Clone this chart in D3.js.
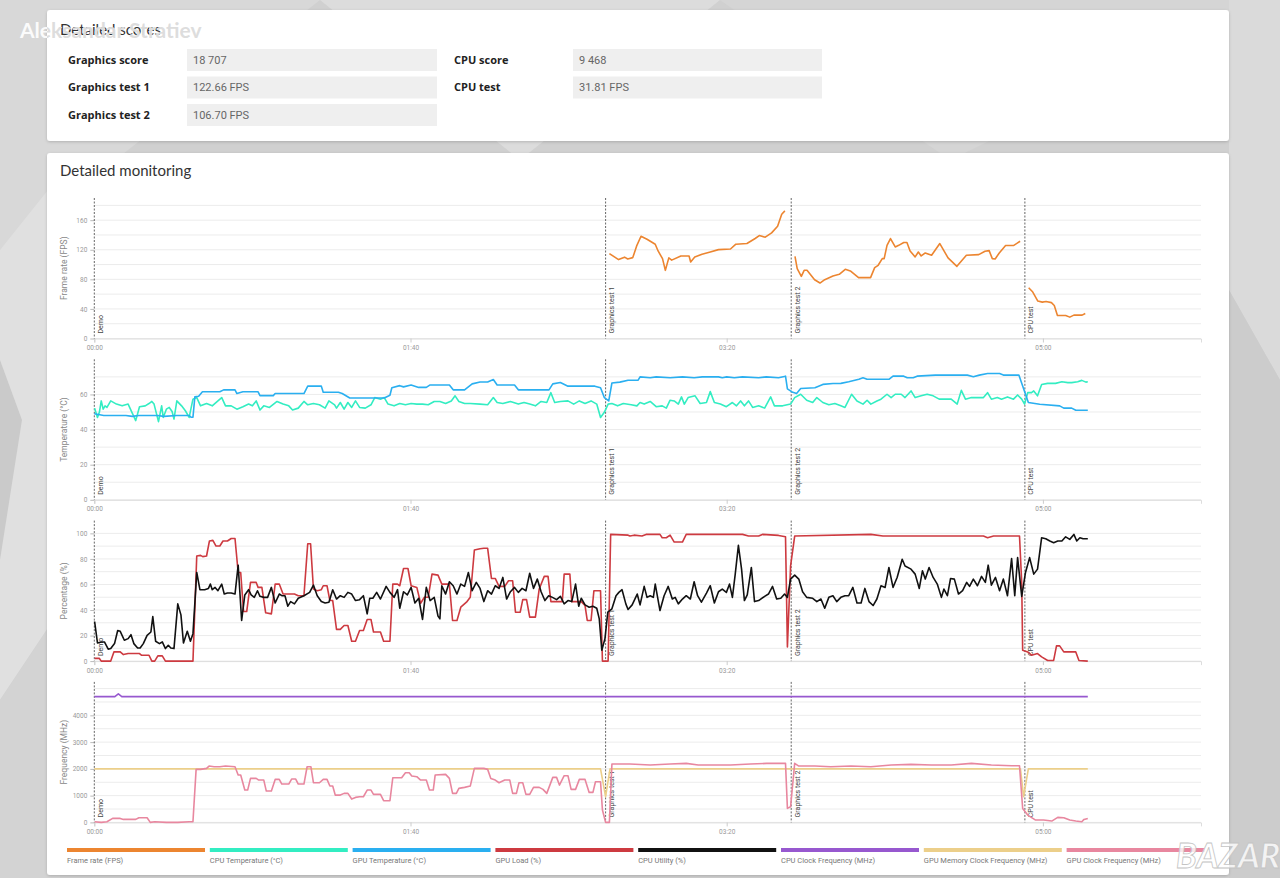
<!DOCTYPE html>
<html>
<head>
<meta charset="utf-8">
<script src="https://cdn.jsdelivr.net/npm/d3@7"></script>
<style>
    html, body { margin: 0; padding: 0; background: #d0d0d0; overflow: hidden; }
    svg { display: block; }
</style>
</head>
<body>
<div id="page"></div>
<script>
/* ---------- data ---------- */

const ownerName = "Aleksandar Stratiev";

const scoresLeft = [["Graphics score", "18 707"], ["Graphics test 1", "122.66 FPS"], ["Graphics test 2", "106.70 FPS"]];
const scoresRight = [["CPU score", "9 468"], ["CPU test", "31.81 FPS"]];

const timeDomain = [0, 350];
const timeTicks = [0, 100, 200, 300];

const testMarkers = [[0, "Demo"], [161.7, "Graphics test 1"], [220.4, "Graphics test 2"], [294.3, "CPU test"]];

const fpsTicks = [0, 40, 80, 120, 160];
const tempTicks = [0, 20, 40, 60];
const pctTicks = [0, 20, 40, 60, 80, 100];
const freqTicks = [0, 1000, 2000, 3000, 4000];

const legendNames = ["Frame rate (FPS)", "CPU Temperature (°C)", "GPU Temperature (°C)", "GPU Load (%)",
    "CPU Utility (%)", "CPU Clock Frequency (MHz)", "GPU Memory Clock Frequency (MHz)", "GPU Clock Frequency (MHz)"];
const legendColors = ["#ec8530", "#33edc2", "#2aaff0", "#cd3a40", "#111111", "#9758cf", "#eccf8a", "#e8879f"];

// [seconds, value] ; null = gap between tests
const frameRate = [
    [162.9,114.8],[165.8,106.7],[167.7,110],[168.7,107.6],[170.3,109.4],[171.6,126],[172.9,138.3],[174.8,134.2],
    [177.4,127.5],[178.3,118.4],[179.7,108],[180.6,92.2],[181.7,109],[182.6,106],[185.5,111.6],[188.1,111.6],
    [188.6,103.5],[189.9,110.3],[192.2,113.9],[194.8,117],[197.4,120.2],[201.2,121],[202.9,127.5],[206.4,128.4],
    [209,135.2],[210.3,139.2],[212.2,137],[214.2,142.8],[216.1,151.9],[217.4,168.1],[218.4,172.6],
    [220,null],
    [221.6,111.2],[222.3,94.5],[223.6,84],[224.5,92.2],[225.4,92.2],[227.8,79.5],[229.5,75],[231,79.5],[233.6,84.5],
    [235.6,86.8],[237.5,93.6],[239.1,91.3],[241.7,82.3],[245.5,82.3],[246.8,95.8],[247.9,99],[249.2,108],[249.8,108],
    [250.7,126],[251.8,135.2],[253.3,123.8],[254.4,126],[256,129.8],[257,129.8],[258,118.4],[259.6,110.3],[260.6,117],
    [261.5,111.6],[262.8,115.7],[264.8,112.5],[267.4,128.4],[270,109],[272.8,97.6],[275.8,112.5],[279.7,113.4],
    [281.7,118],[283,118.8],[284,108],[284.9,107.6],[286.2,115.7],[288.2,125.7],[290.8,126],[292.8,131.5],
    [294,null],
    [295.5,68.7],[296.8,62.8],[298.4,50.6],[299.8,49.2],[301,50],[302.7,48.5],[303.6,44.7],[304.6,31.2],[307.2,31.2],
    [308.5,28.9],[309.8,31.6],[312.4,31.6],[313.4,33.9]
];

const cpuTemp = [
    [0.1,52.2],[1,46.9],[1.6,49.8],[2.2,56.3],[2.8,51.6],[3.4,53.5],[4,52.6],[5.2,56.3],[7,54.5],[8.8,53.5],[10.7,54.5],
    [11.9,49.8],[13.1,45.1],[14.3,53],[16.1,53.5],[17.3,54.8],[18.2,56],[18.9,54.5],[19.7,48.8],[20.3,44.5],[21.3,53.5],
    [21.8,46.9],[22.8,51.6],[23.7,52.6],[24.6,50.3],[25.2,46],[26.1,56.3],[27.6,53.5],[28.8,50.7],[30,46.9],[31.2,57.3],
    [32.4,58.2],[33.6,53.5],[35.5,54.8],[37.3,53.5],[39.1,56.3],[40.3,58.2],[41.5,53.5],[43.3,53.5],[45.1,51.6],[47,53],
    [48.8,54.5],[50,53.5],[51.2,56.3],[52.4,51.1],[53.6,53.5],[55.4,52.6],[57.8,56],[59.7,54.5],[61.5,53.5],[62.7,51.1],
    [64.5,52.2],[66.3,56],[67.5,54.1],[69.3,54.8],[71.2,54.1],[73,52.2],[74.2,56.3],[76,54.1],[76.6,52.2],[77.8,55.4],
    [79,51.6],[80.2,55.4],[81.4,52.6],[82.6,56.3],[83.9,52.6],[85.7,52.2],[87.5,54.1],[88.7,58.2],[90.5,57.3],[91.7,58.2],
    [92.9,54.5],[94.8,53.5],[96.6,54.8],[98.4,54.1],[100.2,54.8],[102,54.5],[103.8,54.5],[105.6,54.1],[107.5,56],[109.3,56],
    [111.1,54.8],[112.9,56.3],[114.1,59.2],[115.3,56],[117.1,54.8],[118.9,54.8],[122,54.5],[124.4,54.1],[126.2,58.2],
    [127.4,55.4],[129.2,54.8],[131.6,56],[134.1,54.5],[135.9,55.4],[137.7,54.5],[139.5,53.5],[141.3,56],[143.1,55.4],
    [144.4,61],[145.6,55.4],[147.4,56],[149.8,56.3],[151.6,54.5],[153.4,56.3],[155.2,54.8],[157.1,56.3],[158.9,54.5],
    [160.1,46.9],[161.3,49.8],[162.5,54.5],[163.7,54.8],[165.5,53.5],[167.3,54.8],[169.8,54.1],[171.6,53.5],
    [172.6,55.4],[173.9,54.5],[175.8,56],[177.7,53],[179.6,53.5],[180.9,52.2],[182.1,56.7],[183.4,56.3],[184.7,54.5],
    [185.7,58.6],[186.6,54.5],[187.8,58.2],[190,59.2],[191.6,54.8],[193.6,55.4],[194.8,61.6],[196.1,55.4],[198,54.5],
    [199.9,53],[201.8,55.4],[203.1,53.5],[204.4,56.3],[205.6,53.5],[206.9,56.3],[208.2,52.6],[210.1,53.5],[212,52.2],
    [213.9,58.6],[215.1,53.5],[217.7,53.5],[220.2,54.5],[221.5,58.2],[223.4,60.1],[225.3,56.7],[227.2,55.4],[228.5,58.2],
    [230.4,55.4],[232.3,54.1],[234.2,54.8],[236.1,53.5],[237.4,52.6],[239.5,60.1],[241.2,56.3],[243.1,54.5],[244.4,56.7],
    [245.6,54.5],[247.5,56.3],[248.8,57.3],[250.7,60.1],[252,58.2],[253.3,60.1],[255.2,60.1],[256.4,58.2],[258.3,62],
    [259.6,58.2],[261.5,59.2],[263.4,60.1],[265.3,59.2],[267.2,57.3],[269.1,57.3],[271,57.3],[272.9,54.5],[274.2,62.3],
    [275.5,57.3],[277.4,58.2],[279.3,58.2],[281.2,58.2],[282.5,61],[283.7,57.3],[285.6,58.2],[286.9,57.3],[288.8,58.6],
    [290.7,57.3],[292,59.7],[293.3,57.3],[294.2,54.5],[295.2,61],[296.4,61],[297.1,62],[298.3,59.2],[299.6,65.7],
    [301.5,66.3],[304,66.3],[306,67.2],[307.9,66.7],[309.1,66.7],[311,67.2],[312.3,68],[313.6,67],[314.2,67.2]
];

const gpuTemp = [
    [0,49],[3,48],[10,48],[12,47.5],[14,48],[20,48],[22,47.5],[26,48],[30,48],[30.6,47],[31.2,47],[31.8,58.6],[33,59],
    [34.2,61.5],[39.7,61.5],[40.9,62.6],[44.5,62.6],[45.1,60.5],[47,61.5],[51.8,61.5],[52.4,59.3],[56.6,59.3],[57.2,60.5],
    [66.3,60.5],[67.5,64.7],[71.8,64.7],[72.4,61.2],[77.2,61.2],[78.4,60.5],[80.8,58],[91.7,58],[93.5,59.5],[94.1,63.8],
    [96.6,65],[97.8,64.3],[100.2,65.4],[102.6,64],[105,64],[106.2,65.4],[112.3,65.4],[113.5,62.6],[117.1,62.6],[119.5,66],
    [122,67.1],[124.4,67.1],[126.2,68.5],[127.4,65.4],[132.9,65.4],[134.1,62.6],[143.8,62.6],[145,66],[147.4,66.8],
    [149.8,64.7],[158.3,64.7],[160.1,63.8],[161.3,58.2],[162.7,56.3],[163.7,66.5],[166.2,67],[168.8,68.1],[172,68.1],
    [172.6,70],[175.8,69.5],[177.7,70],[182.1,69.5],[186,70],[189.7,69.5],[192.3,70],[197.4,70],[198.6,69.5],[200,70],
    [202.4,69.5],[205,70],[210.1,69.5],[212.5,70],[216.4,69.5],[218.6,70.4],[219.2,63.2],[220.9,61.2],[222.1,60.5],
    [223.4,63.4],[227.9,63.8],[230.4,65.7],[233.6,66.2],[236.1,66.3],[238.6,67.2],[241.8,68.6],[243.1,69.5],[244.4,68.6],
    [251.3,68.6],[252.6,70.4],[256,70.4],[257.1,69.5],[259,69.5],[260.2,70.4],[266,71],[276.1,71],[278,70.1],[279.9,71],
    [282.5,71.9],[286.3,71.9],[287.5,71],[292.4,71],[294.5,60.1],[295.4,55.4],[299,54.4],[305.3,53.5],[306.6,52.2],
    [309.1,52.2],[310.4,51],[314.2,51]
];

const gpuLoad = [
    [0.1,2.1],[1.6,2.1],[2.2,0],[5.2,0],[6.2,7.2],[8.2,7.2],[9.2,5.1],[10.7,5.9],[14.3,5.9],[14.9,4.6],[17.3,4.6],[18.2,0],
    [19.1,0],[20.1,4.1],[21.5,4.1],[22.5,0],[31.2,0],[32.4,82.3],[33.6,82.8],[34.3,81.8],[35.5,82.3],[36.4,94],[37.5,94.5],
    [38.5,90.1],[39.7,90.1],[40.7,94],[42.1,94],[43.3,96],[44.5,96],[45.5,69.4],[46.3,69.4],[47.2,38.8],[48.2,38.8],
    [49.4,61.6],[51.2,61.6],[51.8,57.7],[53,57.7],[54.2,37.8],[56,37],[57.2,60.3],[58.5,60.3],[59.7,52.5],[63.3,52.5],
    [64.5,51.2],[66.3,51.2],[67.5,91.9],[68.4,91.9],[69.3,56.4],[70.5,55.1],[71.8,55.9],[72.4,59],[73.6,59],[74.5,47.4],
    [75.4,47.4],[76.6,24.8],[77.8,24.8],[79,27.9],[80.2,27.9],[81.4,15.5],[82.6,15.5],[83.9,24],[85.1,24],[86.3,32.6],
    [87.5,32.6],[88.3,22.8],[90.5,22.8],[91.5,15.5],[93.5,15.5],[94.4,60.3],[95.9,60.3],[96.6,59],[97.8,72.5],[99.2,72.5],
    [100.2,59],[102,57.7],[103.2,45.3],[104.4,50],[105.6,50],[106.8,68.1],[108.7,67.3],[109.9,60.3],[112.3,60.3],
    [113.3,31.8],[114.7,31.8],[115.9,42.2],[117.7,46.1],[118.9,50],[120.2,87],[122,88],[123.2,88.3],[124.4,88.3],
    [125.6,64.7],[126.8,64.7],[128,58.5],[129.8,58.5],[131,62.9],[132.3,62.9],[133.2,38.3],[134.7,38.3],[135.5,48.1],
    [136.7,48.1],[137.7,34.4],[139.5,34.4],[140.7,56.4],[142.3,66.3],[143.5,66.3],[144.4,46.6],[148,46.6],[148.6,68.1],
    [150.4,68.1],[151,46.6],[154,46.6],[155.2,43.5],[155.9,31.8],[157.1,31.8],[158,55.1],[160.1,55.1],[160.7,0],[162.5,0],
    [163.3,99.2],[168.8,98.6],[169.4,97.9],[170.7,98.6],[173.2,97.9],[174.5,99.2],[178.9,99.2],[179.6,96.6],[180.9,96.6],
    [182.1,98.6],[183.4,93.2],[186,93.2],[187.2,99.2],[205,99.2],[206.9,97.9],[210.1,97.9],[211.3,99.2],[216.4,98.4],
    [218.6,97.3],[219.2,11.1],[220.2,74.5],[221.5,97.9],[245.6,99.2],[249.4,97.9],[281.2,97.9],[282.5,96.6],[284.4,97.9],
    [292.6,97.9],[293.3,61.6],[293.6,8.5],[295.2,7.2],[296.4,4.6],[298.3,5.9],[299.6,3.3],[301.5,0.5],[303.4,0.5],
    [304.3,11.9],[305.3,11.9],[306.6,7.2],[310.4,7.2],[311.4,0.5],[314.2,0]
];

const cpuUtil = [
    [0.1,31],[1,14.2],[2.2,15],[3.2,15],[4.4,9.3],[5.2,9.8],[6.4,13.7],[7.4,24],[8.2,23.3],[9.5,16.3],[10.7,17.6],
    [11.6,20.7],[12.5,13.7],[13.7,10.3],[14.5,10.3],[15.5,13.7],[16.7,20.2],[17.9,22.8],[18.5,34.9],[19.4,15.5],
    [20.6,13.7],[21.5,15],[22.5,9.8],[23.4,12.4],[24.2,10.3],[25.2,9.8],[26.4,44.8],[27.4,36.2],[28.2,14.2],[29.4,23.3],
    [30.4,15.5],[31.2,21.5],[32.4,69.4],[33.4,55.9],[34.9,55.9],[36.1,56.9],[36.7,60.3],[37.3,55.9],[38.2,57.7],
    [39.1,55.1],[40.3,60.3],[41.1,52.5],[42.1,53.3],[43.3,53.3],[44.5,52.5],[45.5,75.1],[46.6,31.8],[47.6,51.8],
    [48.8,55.9],[49.6,51.8],[50.6,49.9],[51.6,55.1],[52.4,50.7],[53.6,49.9],[54.8,49.9],[56,57.7],[57.2,45.5],[58.5,52.5],
    [59.3,51.2],[60.3,51.2],[61.2,43],[62.1,46.6],[63.3,44.8],[64.5,49.2],[66.3,51.2],[68.1,53.8],[69.3,59.5],[70.5,51.2],
    [71.8,46.6],[73,45.5],[74.2,46.1],[75.4,55.9],[76.6,48.6],[77.8,51.2],[79,49.9],[80.2,53.8],[81.4,52.5],[82.6,47.4],
    [83.9,48.1],[85.1,51.2],[86.3,37],[87.1,49.2],[88.1,49.2],[89.3,53.8],[90.5,48.6],[92.3,58.5],[93.5,53.8],[94.8,49.9],
    [95.9,55.9],[96.6,41.4],[97.8,54.3],[99,51.8],[100.2,57.7],[101.4,45.5],[102.6,49.2],[103.8,32.6],[105,57.7],
    [106.2,47.4],[107.5,49.9],[108.7,35.2],[109.3,33.1],[109.9,59],[111.1,52.5],[112.3,62.1],[113.5,59],[114.7,52.5],
    [115.9,60.3],[117.1,58.5],[118.3,69.4],[119.5,55.1],[120.8,61.6],[122,56.9],[123.2,46.6],[124.4,55.1],[125.6,52.5],
    [126.8,59],[128,56.9],[129.2,65.5],[130.4,48.6],[131.6,54.3],[132.9,57.7],[134.1,53.8],[135.3,56.9],[136.5,55.1],
    [137.7,68.8],[138.9,56.9],[140.1,64.2],[141.3,54.3],[142.5,47.4],[143.7,51.2],[144.9,49.9],[146.2,48.1],[147.4,50.7],
    [148.6,44.8],[149.8,47.4],[151,46.6],[152.2,60.3],[153.2,43],[154,49.2],[155.2,44],[156.5,42.2],[157.7,43],[158.9,41.4],
    [159.7,33.1],[160.5,8.5],[161.5,17.6],[162.4,38.3],[163.7,40.9],[165,51.2],[165.9,53.8],[166.9,55.9],[168.1,44.8],
    [168.8,40.4],[170.1,44],[171.7,52.5],[172.6,44],[173.9,58.5],[174.8,49.9],[175.8,51.2],[176.8,49.9],[177.4,60.3],
    [178.9,39.6],[180.2,51.2],[181.5,58.5],[182.8,48.6],[183.7,49.9],[184.7,44.8],[186,48.6],[187.2,51.2],[188.5,48.6],
    [189.7,62.1],[190.8,51.2],[192,46.1],[193.6,53.3],[194.8,59],[196.1,45.5],[197.4,54.3],[198.6,56.4],[199.9,53.8],
    [200.9,60.3],[201.8,49.9],[202.7,68.1],[203.7,90.6],[204.7,72],[205.6,47.4],[206.5,51.8],[207.8,73.3],[208.8,46.6],
    [210.1,47.4],[212,50.7],[213.2,52.5],[214.5,58.5],[215.8,48.6],[217.1,49.2],[218.3,52.5],[219.2,49.9],[220.2,64.2],
    [221.5,67.3],[222.8,64.2],[224,54.3],[225.3,49.9],[227.2,49.2],[228.5,46.6],[229.8,48.6],[231,41.4],[232.3,49.9],
    [233.6,51.2],[234.8,46.6],[236.1,49.9],[237.4,51.2],[238.6,51.2],[239.9,57.7],[241.2,45.5],[242.5,45.5],[243.7,56.9],
    [245,46.6],[246.3,43.5],[247.5,48.6],[248.8,59],[250.1,57.7],[251.3,73.3],[252.6,57.7],[253.9,65.5],[255.5,79.7],
    [256.4,74.5],[258.3,72],[259.6,68.1],[260.9,56.9],[261.9,70.7],[262.8,64.2],[264,73.3],[265.3,65.5],[266.6,60.3],
    [267.9,49.9],[268.7,56.4],[269.8,51.2],[270.8,64.7],[272,64.2],[273.3,52.5],[274.6,55.1],[275.9,61.6],[276.8,58.5],
    [278,64.2],[279.3,59],[280.6,66.3],[281.8,61.6],[282.7,75.1],[283.7,59.5],[285,65.5],[286.3,55.1],[287.5,64.2],
    [288.8,51.2],[290.1,80.2],[291.1,51.2],[292,81],[293.3,50.7],[294.5,69.4],[295.8,81],[297.1,68.1],[298.3,72],
    [299.6,96.6],[300.9,95.8],[302.2,94],[303.4,92.7],[304.7,94],[306,94],[307.2,97.3],[308.5,95.3],[309.8,99.2],
    [310.7,94],[311.7,96.6],[312.7,95.8],[314.2,95.8]
];

const cpuClock = [[0,4700],[6.5,4700],[7.6,4800],[8.7,4700],[314.2,4700]];

const gpuMemClock = [[0,2000],[160.1,2000],[161.7,960],[163.1,2000],[292.9,2000],[293.9,960],[295.4,2000],[314.2,2000]];

const gpuClock = [
    [0.1,25],[2.2,0],[4,25],[5.8,149],[8.2,149],[9.2,112],[13.1,112],[14.1,174],[16.7,174],[17.7,0],[19.1,25],[22.8,0],
    [26.4,0],[30,25],[31.2,25],[32.2,1981],[33.6,1981],[35.5,2018],[36.3,2105],[37.9,2080],[39.7,2080],[41.5,2105],
    [44.5,2080],[45.5,1769],[46.3,1769],[47.6,1208],[48.5,1208],[49.4,1644],[51.2,1644],[52,1582],[53.6,1582],[54.4,1171],
    [56,1171],[57.2,1607],[58.5,1607],[59.3,1433],[61.5,1433],[62.4,1619],[63.7,1619],[64.5,1433],[66.3,1433],[67.3,2080],
    [68.5,2080],[69.3,1482],[71.2,1482],[72.4,1607],[73.6,1607],[74.5,1358],[75.4,1358],[76.2,1021],[77.8,1021],[79,1084],
    [80.2,1084],[81.4,872],[82.6,934],[83.9,959],[85.1,959],[86.3,1208],[87.5,1208],[88.3,1046],[90.5,1046],[91.5,810],
    [93.5,810],[94.4,1669],[97.2,1669],[98.4,1856],[99.6,1856],[100.4,1732],[102,1707],[103.2,1582],[105,1582],[106,1208],
    [107.2,1208],[107.8,1769],[111.1,1794],[112.3,1644],[113.3,1084],[114.5,1084],[115.3,1271],[117.1,1308],[118.9,1358],
    [120.2,2018],[123.2,2018],[124.4,1981],[125.4,1644],[126.8,1582],[128,1482],[129.8,1582],[131.4,1582],[132.3,1084],
    [133.5,1084],[134.3,1482],[135.5,1482],[136.5,1046],[137.7,1046],[138.9,1308],[140.7,1308],[141.9,1233],[143.1,1084],
    [145,1682],[146.2,1682],[147.1,1395],[148.6,1744],[149.8,1744],[150.8,1233],[152.2,1233],[153.4,1607],[155.2,1607],
    [156.5,1121],[157.7,1121],[158.5,1520],[160.1,1520],[160.7,461],[161.7,0],[162.9,0],[163.7,2180],[169.4,2180],
    [175.8,2143],[182.1,2180],[187.2,2205],[191,2143],[201.2,2143],[207.5,2180],[212.6,2205],[218.6,2205],[219.2,523],
    [220.2,585],[221.5,2205],[222.8,2105],[227.9,2105],[232.9,2080],[239.3,2105],[245.6,2080],[252,2143],[258.3,2168],
    [264.7,2143],[271,2143],[277.4,2205],[283.7,2143],[290.1,2118],[292.6,2118],[293.6,523],[295.2,274],[297.7,87],
    [300.2,87],[302.8,50],[304.7,187],[306.6,174],[308.5,87],[310.4,50],[312.3,25],[313,112],[314.2,149]
];

/* ---------- page ---------- */

const W = 1280, H = 878;
const font = "Lato, 'Open Sans', sans-serif";
const smallFont = "Roboto, 'Noto Sans', sans-serif";

const svg = d3.select("#page").append("svg")
    .attr("width", W)
    .attr("height", H);

const defs = svg.append("defs");
const shadow = defs.append("filter").attr("id", "cardShadow")
    .attr("x", "-5%").attr("y", "-5%").attr("width", "110%").attr("height", "110%");
shadow.append("feDropShadow")
    .attr("dx", 0).attr("dy", 1).attr("stdDeviation", 1.5)
    .attr("flood-color", "#000").attr("flood-opacity", 0.18);

// low-poly background decoration
let bg = svg.append("g");
bg.append("rect").attr("width", W).attr("height", H).attr("fill", "#d0d0d0");
[
    [[0, 0], [320, 0], [0, 250], "#d8d8d8"],
    [[0, 250], [48, 190], [60, 610], [0, 700], "#e0e0e0"],
    [[0, 360], [22, 420], [0, 560], "#cacaca"],
    [[0, 700], [60, 610], [60, 878], [0, 878], "#d3d3d3"],
    [[320, 0], [720, 0], [520, 160], "#dcdcdc"],
    [[720, 0], [1280, 0], [950, 160], "#d5d5d5"],
    [[1229, 0], [1280, 0], [1280, 380], [1229, 290], "#dadada"],
    [[1229, 290], [1280, 380], [1280, 878], [1229, 878], "#cccccc"]
].forEach(p => {
    let color = p.pop();
    bg.append("polygon").attr("points", p.map(d => d.join(",")).join(" ")).attr("fill", color);
});

// cards
const card1 = {x: 47, y: 10, w: 1182, h: 131};
const card2 = {x: 47, y: 153, w: 1182, h: 722};
[card1, card2].forEach(c => {
    svg.append("rect")
        .attr("x", c.x).attr("y", c.y).attr("width", c.w).attr("height", c.h)
        .attr("rx", 3).attr("fill", "#fff")
        .attr("filter", "url(#cardShadow)");
});

/* ---------- detailed scores ---------- */

let scores = svg.append("g");
scores.append("text")
    .attr("x", 60).attr("y", 35)
    .attr("font-family", font).attr("font-size", 15).attr("fill", "#333")
    .text("Detailed scores");

function drawScoreColumn(rows, labelX, boxX, boxW) {
    rows.forEach((r, i) => {
        let top = 49 + i * 27.5;
        scores.append("text")
            .attr("x", labelX).attr("y", top + 14.5)
            .attr("font-family", "'Open Sans', sans-serif").attr("font-weight", 700)
            .attr("font-size", 11).attr("fill", "#222")
            .text(r[0]);
        scores.append("rect")
            .attr("x", boxX).attr("y", top).attr("width", boxW).attr("height", 22)
            .attr("fill", "#efefef");
        scores.append("text")
            .attr("x", boxX + 6).attr("y", top + 14.5)
            .attr("font-family", smallFont).attr("font-size", 11).attr("fill", "#666")
            .text(r[1]);
    });
}
drawScoreColumn(scoresLeft, 68, 187, 250);
drawScoreColumn(scoresRight, 454, 573, 249);

/* ---------- detailed monitoring ---------- */

svg.append("text")
    .attr("x", 60).attr("y", 176)
    .attr("font-family", font).attr("font-size", 15).attr("fill", "#333")
    .text("Detailed monitoring");

const x = d3.scaleLinear(timeDomain, [94.3, 1201]);
const fmtTime = s => d3.format("02")(Math.floor(s / 60)) + ":" + d3.format("02")(s % 60);

const panels = [
    {title: "Frame rate (FPS)", max: 190, step: 20, ticks: fpsTicks, series: [[frameRate, 0]]},
    {title: "Temperature (°C)", max: 80, step: 10, ticks: tempTicks, series: [[cpuTemp, 1], [gpuTemp, 2]]},
    {title: "Percentage (%)", max: 110, step: 10, ticks: pctTicks, series: [[gpuLoad, 3], [cpuUtil, 4]]},
    {title: "Frequency (MHz)", max: 5250, step: 500, ticks: freqTicks, series: [[cpuClock, 5], [gpuMemClock, 6], [gpuClock, 7]]}
];

const panelTop = 198, panelH = 140.5, panelGap = 161.3;

panels.forEach((p, i) => {
    let top = panelTop + i * panelGap;
    let bottom = top + panelH;
    let y = d3.scaleLinear([0, p.max], [bottom, top]);
    let g = svg.append("g");

    // grid
    g.selectAll(".grid").data(d3.range(0, p.max, p.step)).enter()
        .append("line")
        .attr("x1", x.range()[0]).attr("x2", x.range()[1])
        .attr("y1", d => y(d)).attr("y2", d => y(d))
        .attr("stroke", "#ececec").attr("stroke-width", 1);

    // y axis
    let yAxis = g.append("g")
        .attr("transform", `translate(${x.range()[0]},0)`)
        .call(d3.axisLeft(y).tickValues(p.ticks).tickFormat(d3.format("d")).tickSize(4).tickPadding(3));
    yAxis.select(".domain").remove();
    yAxis.selectAll(".tick line").attr("stroke", "#bbb");
    yAxis.selectAll(".tick text")
        .attr("font-family", smallFont).attr("font-size", 6.5).attr("fill", "#999");

    g.append("text")
        .attr("transform", `translate(67,${(top + bottom) / 2}) rotate(-90)`)
        .attr("text-anchor", "middle")
        .attr("font-family", smallFont).attr("font-size", 8.5).attr("fill", "#888")
        .text(p.title);

    // x axis
    let xAxis = g.append("g")
        .attr("transform", `translate(0,${bottom})`)
        .call(d3.axisBottom(x).tickValues(timeTicks).tickFormat(fmtTime).tickSize(4).tickPadding(3));
    xAxis.select(".domain").attr("stroke", "#ddd");
    xAxis.selectAll(".tick line").attr("stroke", "#ccc");
    xAxis.selectAll(".tick text")
        .attr("font-family", smallFont).attr("font-size", 6.5).attr("fill", "#999");

    // test markers
    testMarkers.forEach(m => {
        g.append("line")
            .attr("x1", x(m[0])).attr("x2", x(m[0]))
            .attr("y1", top).attr("y2", bottom)
            .attr("stroke", "#666").attr("stroke-width", 1)
            .attr("stroke-dasharray", "2,1.5");
        g.append("text")
            .attr("transform", `translate(${x(m[0]) + 8.5},${bottom - 5}) rotate(-90)`)
            .attr("font-family", smallFont).attr("font-size", 7).attr("fill", "#444")
            .text(m[1]);
    });

    // series
    let line = d3.line()
        .defined(d => d[1] !== null)
        .x(d => x(d[0]))
        .y(d => y(d[1]))
        .curve(d3.curveLinear);
    p.series.forEach(s => {
        g.append("path")
            .datum(s[0])
            .attr("d", line)
            .attr("fill", "none")
            .attr("stroke", legendColors[s[1]])
            .attr("stroke-width", 1.6)
            .attr("stroke-linejoin", "round");
    });
});

// legend
let legend = svg.append("g");
legendNames.forEach((name, i) => {
    let lx = 67 + i * 142.8;
    legend.append("rect")
        .attr("x", lx).attr("y", 848).attr("width", 138).attr("height", 4)
        .attr("fill", legendColors[i]);
    legend.append("text")
        .attr("x", lx).attr("y", 863)
        .attr("font-family", smallFont).attr("font-size", 7.5).attr("fill", "#777")
        .text(name);
});

/* ---------- overlays ---------- */

defs.append("clipPath").attr("id", "cardClip")
    .append("rect").attr("x", card1.x).attr("y", card1.y).attr("width", card1.w).attr("height", card1.h);

svg.append("text")
    .attr("x", 20).attr("y", 38)
    .attr("font-family", font).attr("font-weight", 700).attr("font-size", 21)
    .attr("fill", "#fff").attr("fill-opacity", 0.92)
    .text(ownerName);
svg.append("text")
    .attr("x", 20).attr("y", 38)
    .attr("clip-path", "url(#cardClip)")
    .attr("font-family", font).attr("font-weight", 700).attr("font-size", 21)
    .attr("fill", "#d2d2d2").attr("fill-opacity", 0.75)
    .text(ownerName);

svg.append("text")
    .attr("x", 1176).attr("y", 868)
    .attr("font-family", font).attr("font-weight", 700).attr("font-style", "italic").attr("font-size", 34)
    .attr("fill", "#fff").attr("fill-opacity", 0.8)
    .attr("stroke", "#c4c4c4").attr("stroke-width", 0.8)
    .text("BAZAR");
</script>
</body>
</html>
